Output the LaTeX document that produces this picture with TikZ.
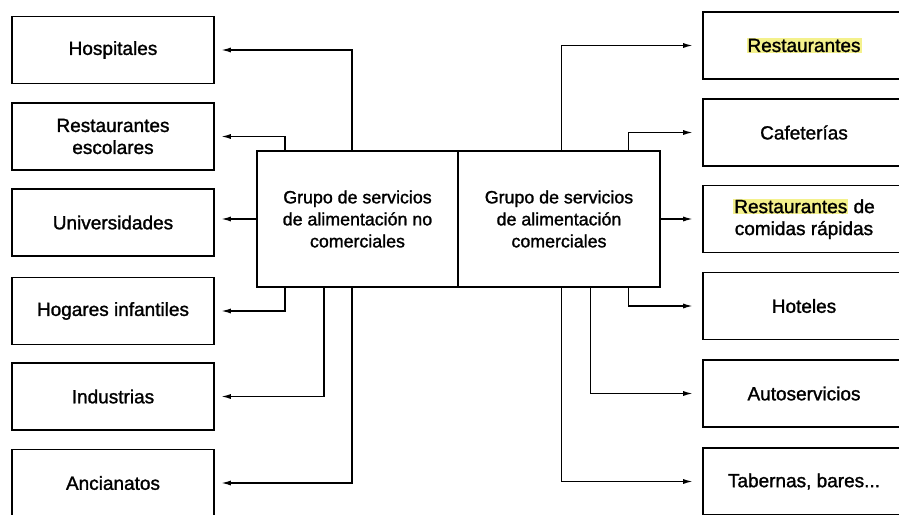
\documentclass[tikz,border=0pt]{standalone}
\usepackage{fontspec}
\setmainfont{Liberation Sans}
\newfontfamily\scanfont{Liberation Sans}[FakeBold = 1.4]
\usetikzlibrary{arrows.meta}

\definecolor{hlyellow}{RGB}{244,241,140}
\newcommand{\hl}[1]{{\setlength{\fboxsep}{1pt}\colorbox{hlyellow}{#1}}}

\begin{document}
\begin{tikzpicture}[x = 1pt, y = -1pt, > = {Latex[length = 10pt, width = 5pt]},
	font = \scanfont\fontsize{19}{22}\selectfont,
	box/.style = {draw, line width = 1.6pt, minimum width = 202pt, minimum height = 67pt, inner sep = 0pt, align = center},
	group/.style = {draw, line width = 1.6pt, minimum width = 201.5pt, minimum height = 136pt, inner sep = 0pt, align = center,
		font = \scanfont\fontsize{17.8}{22}\selectfont},
	link/.style = {->, line width = 1.6pt}]

	% Definitions

	\def\xl{113}		% Centre of the left column
	\def\xr{804}		% Centre of the right column

	\useasboundingbox (0, 0) rectangle (899, 514);
	\clip (0, 0) rectangle (899, 514);

	% Draw the two groups

	\node [group] (nc) at (357.5, 219) {Grupo de servicios\\de alimentación no\\comerciales};
	\node [group] (com) at (559, 219) {Grupo de servicios\\de alimentación\\comerciales};

	% Draw the left column

	\foreach \name/\y/\txt in {hosp/50/{Hospitales}, esc/136.5/{Restaurantes\\escolares}, univ/222.5/{Universidades}, hog/311/{Hogares infantiles}, ind/396.5/{Industrias}, anc/483/{Ancianatos}}
		\node [box] (\name) at (\xl, \y) {\txt};

	% Draw the right column

	\foreach \name/\y/\txt in {rest/45.5/{\hl{Restaurantes}}, caf/132.5/{Cafeterías}, rap/219/{\hl{Restaurantes} de\\comidas rápidas}, hot/306/{Hoteles}, auto/393.5/{Autoservicios}, tab/481.5/{Tabernas, bares...}}
		\node [box] (\name) at (\xr, \y) {\txt};

	% Draw the links

	\begin{scope}[link, shorten > = 6pt]
		\draw ([xshift = 96pt] nc.north west) |- (hosp);
		\draw ([xshift = 29pt] nc.north west) |- (esc);
		\draw (nc.west) -- (nc.west -| univ.east);
		\draw ([xshift = 29pt] nc.south west) |- (hog);
		\draw ([xshift = 68pt] nc.south west) |- (ind);
		\draw ([xshift = 96pt] nc.south west) |- (anc);
	\end{scope}

	\begin{scope}[link, shorten > = 9pt]
		\draw ([xshift = -99pt] com.north east) |- (rest);
		\draw ([xshift = -32pt] com.north east) |- (caf);
		\draw (com.east) -- (com.east -| rap.west);
		\draw ([xshift = -32pt] com.south east) |- (hot);
		\draw ([xshift = -70pt] com.south east) |- (auto);
		\draw ([xshift = -99pt] com.south east) |- (tab);
	\end{scope}

\end{tikzpicture}
\end{document}
